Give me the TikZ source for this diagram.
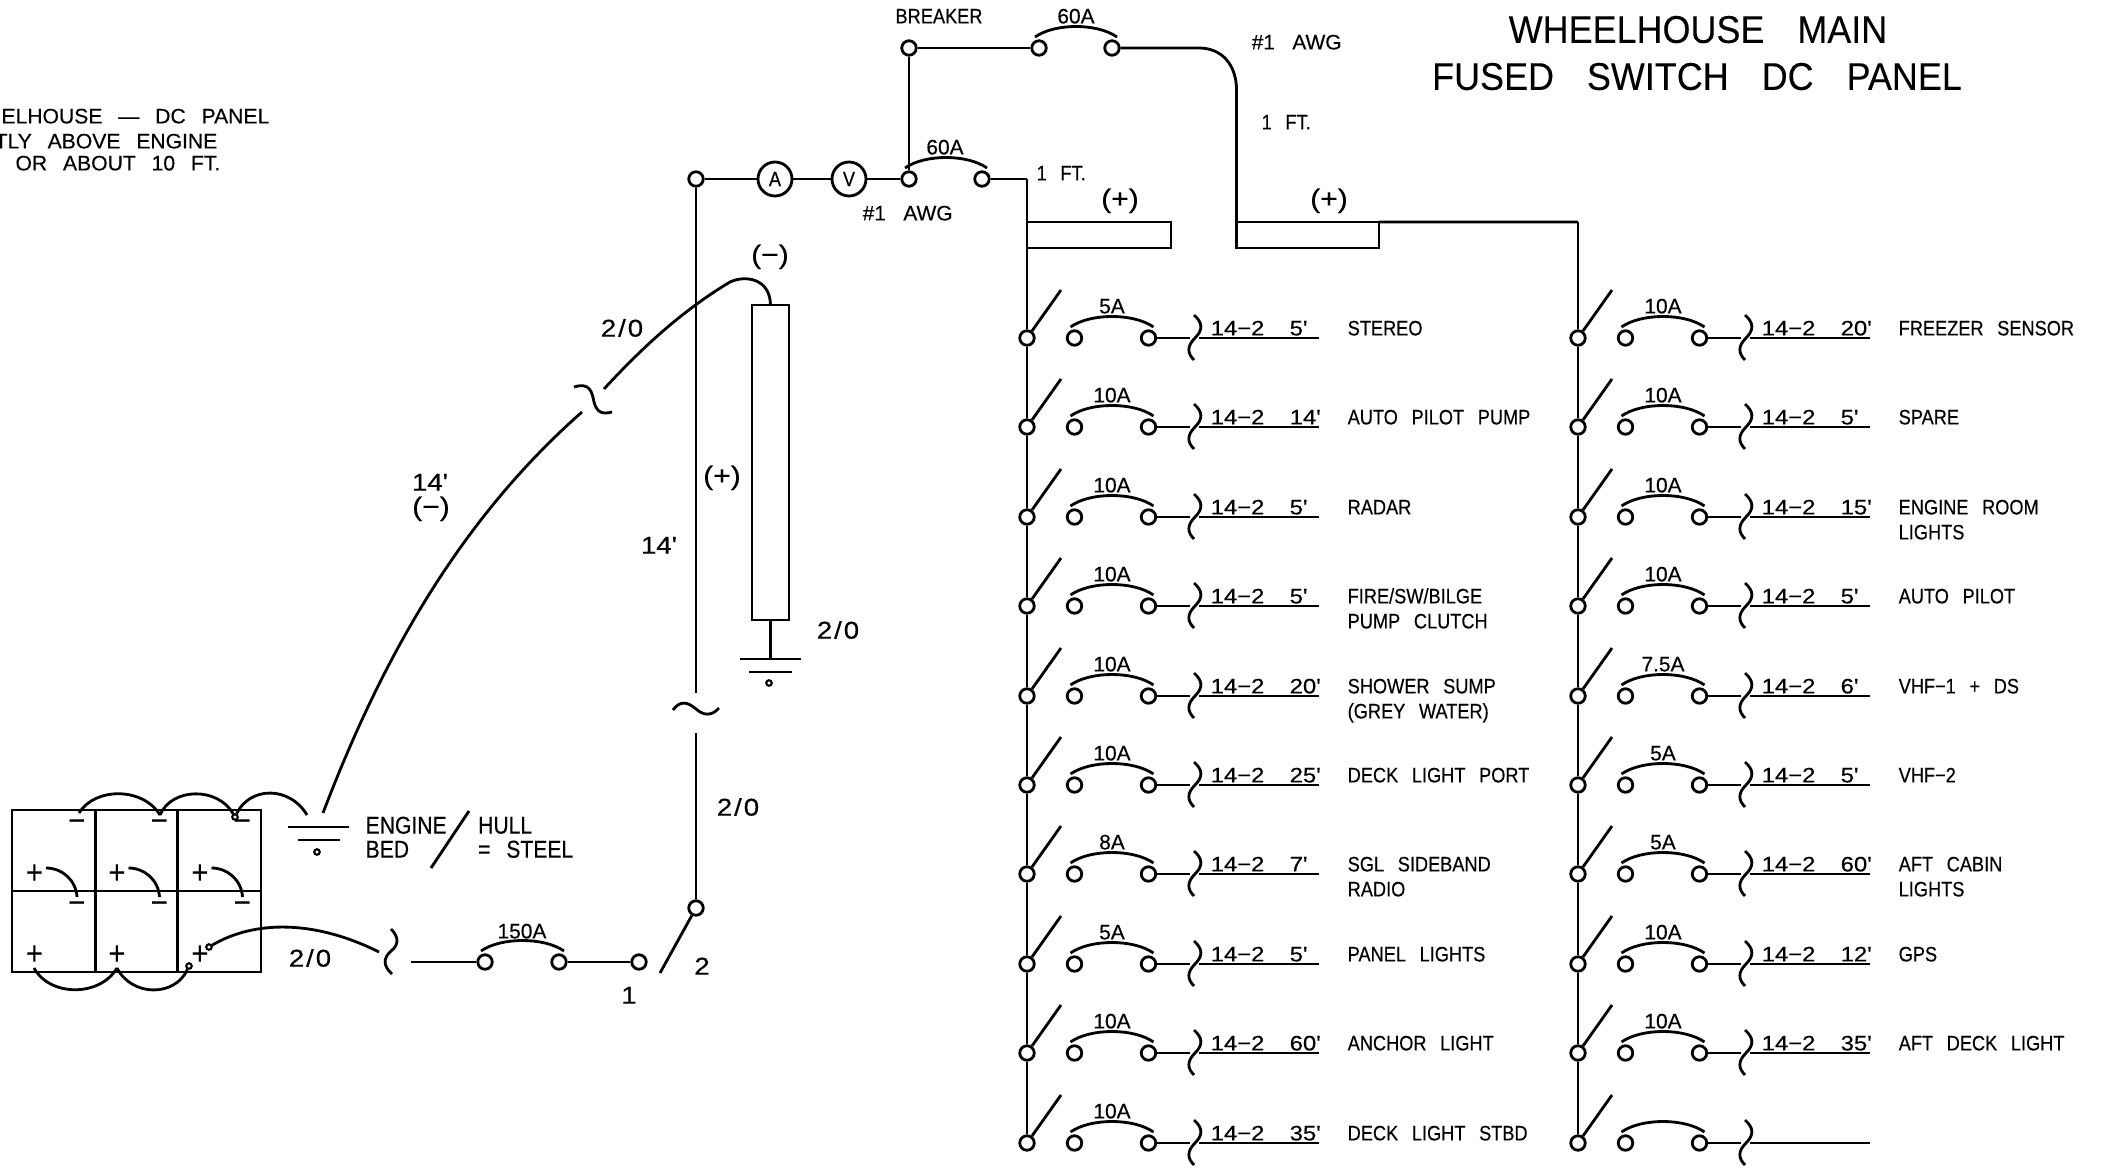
\documentclass[tikz,border=0pt]{standalone}
\usepackage{fontspec}
\setmainfont[FakeStretch=0.87,WordSpace=2.7,FakeBold=0.35]{Liberation Sans}
\newfontfamily\titlefont[FakeStretch=0.93,WordSpace=3.3,FakeBold=0.1]{Liberation Sans}
\newfontfamily\notefont[FakeStretch=1.01,WordSpace=2.7,FakeBold=0.35]{Liberation Sans}
\newfontfamily\ampfont[FakeStretch=1.0,FakeBold=0.35]{Liberation Sans}
\newfontfamily\numfont[FakeStretch=1.14,FakeBold=0.35]{Liberation Sans}
\newfontfamily\sizefont[FakeStretch=1.14,LetterSpace=8,FakeBold=0.35]{Liberation Sans}
\tikzset{
    wire/.style={black, line width=0.8pt},
    term/.style={circle, draw, fill=white, line width=0.8pt, inner sep=0pt, minimum size=1.45mm},
    dotterm/.style={circle, draw, fill=white, line width=0.6pt, inner sep=0pt, minimum size=0.55mm},
    meter/.style={circle, draw, fill=white, line width=0.8pt, inner sep=0pt, minimum size=3.4mm},
    bar/.style={rectangle, draw, line width=0.8pt, inner sep=0pt, outer sep=0pt},
    lbl/.style={inner sep=0pt, text height=4.2pt, text depth=0pt, font=\fontsize{5.95}{7}\selectfont},
    lblnote/.style={inner sep=0pt, text height=4.2pt, text depth=0pt, font=\notefont\fontsize{5.95}{7}\selectfont},
    lblamp/.style={inner sep=0pt, text height=4.2pt, text depth=0pt, font=\ampfont\fontsize{5.95}{7}\selectfont},
    lblnum/.style={inner sep=0pt, text height=4.2pt, text depth=0pt, font=\numfont\fontsize{5.95}{7}\selectfont},
    lblhull/.style={inner sep=0pt, text height=4.9pt, text depth=0pt, font=\fontsize{6.9}{8}\selectfont},
    lbllarge/.style={inner sep=0pt, text height=4.9pt, text depth=0pt, font=\numfont\fontsize{6.9}{8}\selectfont},
    lblsize/.style={inner sep=0pt, text height=4.9pt, text depth=0pt, font=\sizefont\fontsize{6.9}{8}\selectfont},
    lblparen/.style={inner sep=0pt, text height=4.9pt, text depth=0pt, font=\numfont\fontsize{7.5}{9}\selectfont},
    polar/.style={inner sep=0pt, text height=4.9pt, text depth=0pt, font=\fontsize{9.5}{10}\selectfont},
    titleline/.style={inner sep=0pt, text height=7.9pt, text depth=0pt, font=\titlefont\fontsize{11}{13}\selectfont},
}
% fuse arc over two terminals
\newcommand{\fusearc}[2]{\draw[wire] ([shift={(-4,-11)}]#1.center) .. controls +(20,-14) and +(-20,-14) .. ([shift={(5,-11)}]#2.center);}
% upright cable break
\newcommand{\cablecut}{\draw[wire] (-1,-23) .. controls (8,-15) and (8,-8) .. (0,0) .. controls (-8,8) and (-8,15) .. (-1,22);}
% one switched fused circuit: name, previous node, x, y, amps, length, text, 2nd text line
\newcommand{\feeder}[8]{
    \begin{scope}[shift={(#3,#4)}]
        \node[term] (sw#1) at (0,0) {};
        \coordinate (arm#1) at (34,-48);
        \node[term] (fl#1) at (47.5,0) {};
        \node[term] (fr#1) at (121.5,0) {};
        \coordinate (cutl#1) at (163,0);
        \coordinate (cutr#1) at (172,0);
        \coordinate (run#1) at (292,0);
        \draw[wire] (#2) -- (sw#1);
        \draw[wire] (sw#1) -- (arm#1);
        \fusearc{fl#1}{fr#1}
        \draw[wire] (fr#1) -- (cutl#1);
        \draw[wire] (cutr#1) -- (run#1);
        \begin{scope}[shift={(168,0)}]\cablecut\end{scope}
        \if\relax\detokenize{#5}\relax\else
            \node[lblamp] (amp#1) at (85,-32) {#5};
            \node[lblnum, anchor=west] (gauge#1) at (183,-10) {14−2};
            \node[lblnum, anchor=west] (len#1) at (262,-10) {#6};
            \node[lbl, anchor=west] (txt#1) at (320,-10) {#7};
        \fi
        \if\relax\detokenize{#8}\relax\else
            \node[lbl, anchor=west] (txtb#1) at (320,15) {#8};
        \fi
    \end{scope}
}

\begin{document}
\begin{tikzpicture}[x=0.1mm, y=-0.1mm]
    \useasboundingbox (0,0) rectangle (2110,1168);

    % titles
    \node[titleline] (title1) at (1698,29) {WHEELHOUSE MAIN};
    \node[titleline] (title2) at (1697,76) {FUSED SWITCH DC PANEL};
    \node[lblnote, anchor=east] (note1) at (270,116) {ELHOUSE — DC PANEL};
    \node[lblnote, anchor=east] (note2) at (218,141) {TLY ABOVE ENGINE};
    \node[lblnote, anchor=east] (note3) at (221,163) {OR ABOUT 10 FT.};

    % breakers and meters
    \node[term] (brk) at (909,48) {};
    \node[term] (mainl) at (1039,48) {};
    \node[term] (mainr) at (1112,48) {};
    \node[term] (feedl) at (909,179) {};
    \node[term] (feedr) at (982,179) {};
    \node[term] (inlet) at (696,179) {};
    \node[meter] (amm) at (775,179) {\fontsize{5.95}{7}\selectfont A};
    \node[meter] (volt) at (849,179) {\fontsize{5.95}{7}\selectfont V};
    \node[lbl] (brktxt) at (939,16) {BREAKER};
    \node[lblamp] (mainamp) at (1076,16) {60A};
    \node[lblamp] (feedamp) at (945,147) {60A};
    \node[lblamp, anchor=west] (awga) at (1251,42) {\#1\hspace*{3.3pt} AWG};
    \node[lblamp, anchor=west] (awgb) at (862,213) {\#1\hspace*{3.3pt} AWG};
    \node[lbl, anchor=west] (fta) at (1261,122) {1 FT.};
    \node[lbl, anchor=west] (ftb) at (1036,173) {1 FT.};
    \fusearc{mainl}{mainr}
    \fusearc{feedl}{feedr}
    \draw[wire] (brk) -- (mainl);
    \draw[wire] (brk) -- (feedl);
    \draw[wire] (inlet) -- (amm);
    \draw[wire] (amm) -- (volt);
    \draw[wire] (volt) -- (feedl);

    % bus bars
    \node[bar, minimum width=14.4mm, minimum height=2.6mm] (bara) at (1099,235) {};
    \node[bar, minimum width=14.25mm, minimum height=2.6mm] (barb) at (1307.75,235) {};
    \node[lblparen] (pola) at (1120,199) {(+)};
    \node[lblparen] (polb) at (1329,199) {(+)};
    \coordinate (corna) at (1027,179);
    \coordinate (cornb) at (1578,222);
    \draw[wire] (feedr) -- (corna);
    \draw[wire] (mainr) -- (1199,48) .. controls (1222,48) and (1236.5,65) .. (1236.5,90) -- (barb.north west);
    \draw[wire] (barb.north east) -- (cornb);

    % left column
    \feeder{a1}{corna}{1027}{338}{5A}{5'}{STEREO}{}
    \feeder{a2}{swa1}{1027}{427}{10A}{14'}{AUTO PILOT PUMP}{}
    \feeder{a3}{swa2}{1027}{517}{10A}{5'}{RADAR}{}
    \feeder{a4}{swa3}{1027}{606}{10A}{5'}{FIRE/SW/BILGE}{PUMP CLUTCH}
    \feeder{a5}{swa4}{1027}{696}{10A}{20'}{SHOWER SUMP}{(GREY WATER)}
    \feeder{a6}{swa5}{1027}{785}{10A}{25'}{DECK LIGHT PORT}{}
    \feeder{a7}{swa6}{1027}{874}{8A}{7'}{SGL SIDEBAND}{RADIO}
    \feeder{a8}{swa7}{1027}{964}{5A}{5'}{PANEL LIGHTS}{}
    \feeder{a9}{swa8}{1027}{1053}{10A}{60'}{ANCHOR LIGHT}{}
    \feeder{a10}{swa9}{1027}{1143}{10A}{35'}{DECK LIGHT STBD}{}

    % right column
    \feeder{b1}{cornb}{1578}{338}{10A}{20'}{FREEZER SENSOR}{}
    \feeder{b2}{swb1}{1578}{427}{10A}{5'}{SPARE}{}
    \feeder{b3}{swb2}{1578}{517}{10A}{15'}{ENGINE ROOM}{LIGHTS}
    \feeder{b4}{swb3}{1578}{606}{10A}{5'}{AUTO PILOT}{}
    \feeder{b5}{swb4}{1578}{696}{7.5A}{6'}{VHF−1 + DS}{}
    \feeder{b6}{swb5}{1578}{785}{5A}{5'}{VHF−2}{}
    \feeder{b7}{swb6}{1578}{874}{5A}{60'}{AFT CABIN}{LIGHTS}
    \feeder{b8}{swb7}{1578}{964}{10A}{12'}{GPS}{}
    \feeder{b9}{swb8}{1578}{1053}{10A}{35'}{AFT DECK LIGHT}{}
    \feeder{b10}{swb9}{1578}{1143}{}{}{}{}

    % positive run with selector and main fuse
    \node[term] (sel2) at (696,908) {};
    \node[term] (sel1) at (639,962) {};
    \node[term] (bigr) at (559,962) {};
    \node[term] (bigl) at (485,962) {};
    \coordinate (runup) at (696,693);
    \coordinate (rundn) at (696,733);
    \coordinate (selarm) at (660,973);
    \coordinate (batin) at (411,962);
    \draw[wire] (inlet) -- (runup);
    \draw[wire] (673,710) .. controls (680,700) and (688,702) .. (696,709) .. controls (704,716) and (712,716) .. (719,708);
    \draw[wire] (rundn) -- (sel2);
    \draw[wire] (sel2) -- (selarm);
    \draw[wire] (sel1) -- (bigr);
    \draw[wire] (batin) -- (bigl);
    \fusearc{bigl}{bigr}
    \draw[wire] (391,929) .. controls (399,937) and (399,945) .. (391,951) .. controls (383,958) and (383,966) .. (392,974);
    \node[lblamp] (bigamp) at (522,931) {150A};
    \node[lbllarge] (sel1txt) at (629,995) {1};
    \node[lbllarge] (sel2txt) at (702,966) {2};
    \node[lblsize] (runtxt) at (738,807) {2/0};
    \node[lbllarge] (lentxt) at (659,545) {14'};
    \node[lblparen] (plustxt) at (722,476) {(+)};

    % tall box
    \node[bar, minimum width=3.7mm, minimum height=31.5mm] (cell) at (770.5,462.5) {};
    \coordinate (cellgnd) at (770.5,659);
    \node[dotterm] (celldot) at (769,683) {};
    \draw[wire] (cell.south) -- (cellgnd);
    \draw[wire] (740,659) -- (801,659);
    \draw[wire] (749,672) -- (792,672);
    \node[lblparen] (negtxt) at (770,255) {(−)};
    \node[lblsize] (celltxt) at (838,630) {2/0};

    % negative run
    \coordinate (negup) at (604,389);
    \coordinate (negdn) at (582,412);
    \coordinate (hullup) at (323,813);
    \draw[wire] (negup) .. controls (640,350) and (680,312) .. (730,282) .. controls (745,275) and (770,278) .. (cell.north);
    \draw[wire] (574,387) .. controls (590,382) and (592,392) .. (594,402) .. controls (597,414) and (604,414) .. (612,412);
    \draw[wire] (hullup) .. controls (385,650) and (465,515) .. (negdn);
    \node[lblsize] (negsize) at (622,328) {2/0};
    \node[lbllarge] (neglen) at (430,482) {14'};
    \node[lblparen] (negpol) at (431,507) {(−)};

    % batteries
    \draw[wire] (12,810) rectangle (261,972);
    \draw[wire] (12,891) -- (261,891);
    \draw[wire] (95.5,810) -- (95.5,972);
    \draw[wire] (177.7,810) -- (177.7,972);
    \foreach \i/\dx in {1/0,2/82.5,3/165.5} {
        \node[polar] (negu\i) at (76.7+\dx,823) {−};
        \node[polar] (negl\i) at (76.7+\dx,905) {−};
        \node[polar] (posu\i) at (34.4+\dx,875) {+};
        \node[polar] (posl\i) at (34.4+\dx,956) {+};
        \draw[wire] (46+\dx,868) .. controls (62+\dx,868) and (76+\dx,880) .. (77+\dx,897);
    }
    \node[dotterm] (batneg) at (235,817) {};
    \node[dotterm] (batposa) at (209,947) {};
    \node[dotterm] (batposb) at (189,966) {};
    \draw[wire] (79,813) .. controls (95,787) and (143,787) .. (160,815);
    \draw[wire] (160,815) .. controls (172,787) and (218,787) .. (batneg);
    \draw[wire] (batneg) .. controls (250,786) and (290,786) .. (307,815);
    \draw[wire] (34,968) .. controls (50,997) and (100,997) .. (117,968);
    \draw[wire] (117,968) .. controls (132,997) and (175,997) .. (batposb);
    \draw[wire] (batposa) .. controls (255,920) and (315,920) .. (379,952);
    \node[lblsize] (batsize) at (310,958) {2/0};

    % hull ground
    \node[dotterm] (hulldot) at (317,852) {};
    \draw[wire] (288,827) -- (349,827);
    \draw[wire] (298,840) -- (340,840);
    \draw[wire] (431,868) -- (469,811);
    \node[lblhull, anchor=west] (hulla) at (365,825) {ENGINE};
    \node[lblhull, anchor=west] (hullb) at (365,849) {BED};
    \node[lblhull, anchor=west] (hullc) at (477.5,825) {HULL};
    \node[lblhull, anchor=west] (hulld) at (477.5,849) {= STEEL};
\end{tikzpicture}
\end{document}
